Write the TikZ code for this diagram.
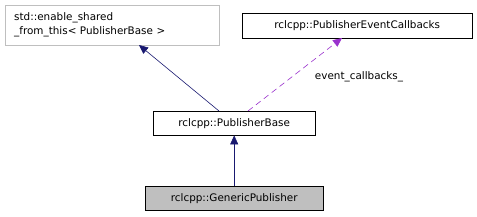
\documentclass[tikz,border=0pt]{standalone}
\usepackage{fontspec}
\setmainfont{DejaVu Sans}
\usetikzlibrary{arrows.meta}
\definecolor{navy}{HTML}{191970}
\definecolor{orchid}{HTML}{9A32CD}
\definecolor{boxgray}{HTML}{BFBFBF}
\tikzset{
  txt/.style={font=\fontsize{10.4}{14}\selectfont},
  cls/.style={txt, draw=black, fill=white, inner sep=0pt},
  inh/.style={navy, -{Triangle[length=9pt,width=8pt]}, line width=0.6pt},
  usage/.style={orchid, dashed, dash pattern=on 6pt off 4pt, -{Triangle[length=9pt,width=8pt]}, line width=0.6pt},
}
\begin{document}
\begin{tikzpicture}[x=1pt,y=-1pt]
\useasboundingbox (0,0) rectangle (477,217);
\node[cls, draw=boxgray, text width=196pt, inner xsep=9pt, minimum height=40pt, align=left, anchor=north west] (esft) at (5,5) {std::enable\_shared\\\_from\_this< PublisherBase >};
\node[cls, minimum width=230pt, minimum height=25pt, anchor=north west] (pec) at (242,13) {rclcpp::PublisherEventCallbacks};
\node[cls, minimum width=162pt, minimum height=24pt, anchor=north west] (pb) at (153,111) {rclcpp::PublisherBase};
\node[cls, fill=boxgray, minimum width=178pt, minimum height=24pt, anchor=north west] (gp) at (145,186) {rclcpp::GenericPublisher};
\coordinate (pbl) at (219,111);
\coordinate (pbr) at (248,111);
\coordinate (esftb) at (139,45);
\coordinate (pecb) at (342,38);
\draw[inh] (pbl) -- (esftb);
\draw[usage] (pbr) -- (pecb);
\node[txt, anchor=center] (lbl) at (359,77) {event\_callbacks\_};
\draw[inh] (gp.north) -- (pb.south);
\end{tikzpicture}
\end{document}
